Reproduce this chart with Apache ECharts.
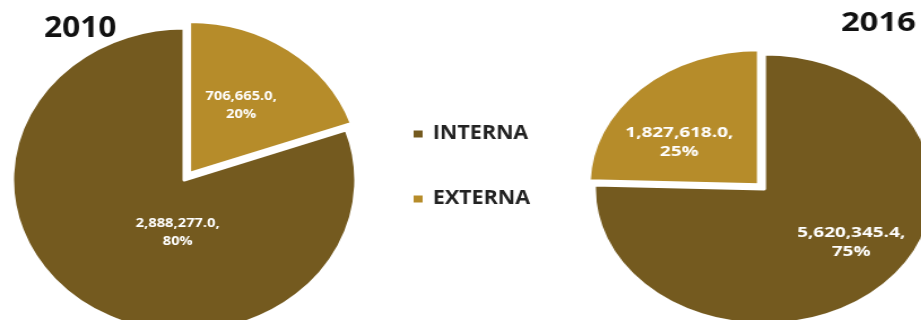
<!DOCTYPE html>
<html>
<head>
    <meta charset="utf-8">
    <title>INTERNA / EXTERNA 2010 - 2016</title>
    <script src="https://cdn.jsdelivr.net/npm/echarts@6/dist/echarts.min.js"></script>
    <style>
        html, body { margin: 0; padding: 0; background: #fff; overflow: hidden; width: 921px; height: 320px; }
        .pie { position: absolute; top: 0; height: 320px; transform-origin: 0 0; }
    </style>
</head>
<body>
<!-- the source pies are stretched sideways, so each chart is scaled in x -->
<div id="left" class="pie" style="left:0;width:480px;transform:scaleX(1.13);"></div>
<div id="right" class="pie" style="left:560px;width:290px;transform:scaleX(1.26);"></div>

<script type="text/javascript">
    var categories = ['INTERNA', 'EXTERNA'];
    var years = ['2010', '2016'];
    var values2010 = [2888277.0, 706665.0];
    var values2016 = [5620345.4, 1827618.0];
    var colors = ['#745A1F', '#B68C2A'];

    function etiqueta(p) {
        return p.value.toLocaleString('en-US', {minimumFractionDigits: 1, maximumFractionDigits: 1})
            + ',\n' + Math.round(p.percent) + '%';
    }

    // el sector seleccionado (desplazado) usa el label del estado "select"
    function datos(valores, desplaz) {
        var lista = [];
        for (var i = 0; i < valores.length; i++) {
            lista.push({
                name: categories[i],
                value: valores[i],
                selected: i == 1,
                label: { offset: desplaz[i] },
                select: { label: { offset: desplaz[i] } }
            });
        }
        return lista;
    }

    // 2010: EXTERNA arranca en las 12 en punto
    var total2010 = values2010[0] + values2010[1];
    var izq = echarts.init(document.getElementById('left'));
    izq.setOption({
        animation: false,
        color: colors,
        title: {
            text: years[0], left: 34, top: 10,
            textStyle: { fontFamily: 'Open Sans', fontWeight: 'bold', fontSize: 28, color: '#111' }
        },
        legend: {
            data: categories,
            orient: 'vertical',
            left: 359, top: 119,
            itemWidth: 10, itemHeight: 9, itemGap: 45,
            icon: 'rect',
            selectedMode: false,
            textStyle: { fontFamily: 'Open Sans', fontWeight: 'bold', fontSize: 19, lineHeight: 20,
                color: '#222', padding: [0, 0, 0, 3] }
        },
        series: [{
            type: 'pie',
            center: [163, 180],
            radius: 152,
            startAngle: 90 - 360 * values2010[1] / total2010,
            selectedMode: 'single',
            selectedOffset: 8,
            avoidLabelOverlap: false,
            itemStyle: { borderColor: '#fff', borderWidth: 3 },
            label: {
                position: 'inside', formatter: etiqueta, color: '#fff',
                fontFamily: 'Open Sans', fontWeight: 'bold', fontSize: 13, lineHeight: 18
            },
            labelLine: { show: false },
            data: datos(values2010, [[40, -12], [0, -4]])
        }]
    });

    var der = echarts.init(document.getElementById('right'));
    der.setOption({
        animation: false,
        color: colors,
        title: {
            text: years[1], left: 218, top: 6,
            textStyle: { fontFamily: 'Open Sans', fontWeight: 'bold', fontSize: 26, color: '#111' }
        },
        series: [{
            type: 'pie',
            center: [162, 189],
            radius: 135,
            startAngle: 90,
            selectedMode: 'single',
            selectedOffset: 6,
            avoidLabelOverlap: false,
            itemStyle: { borderColor: '#fff', borderWidth: 3 },
            label: {
                position: 'inside', formatter: etiqueta, color: '#fff',
                fontFamily: 'Open Sans', fontWeight: 'bold', fontSize: 15, lineHeight: 19
            },
            labelLine: { show: false },
            data: datos(values2016, [[20, 3], [-14, 8]])
        }]
    });
</script>
</body>
</html>
